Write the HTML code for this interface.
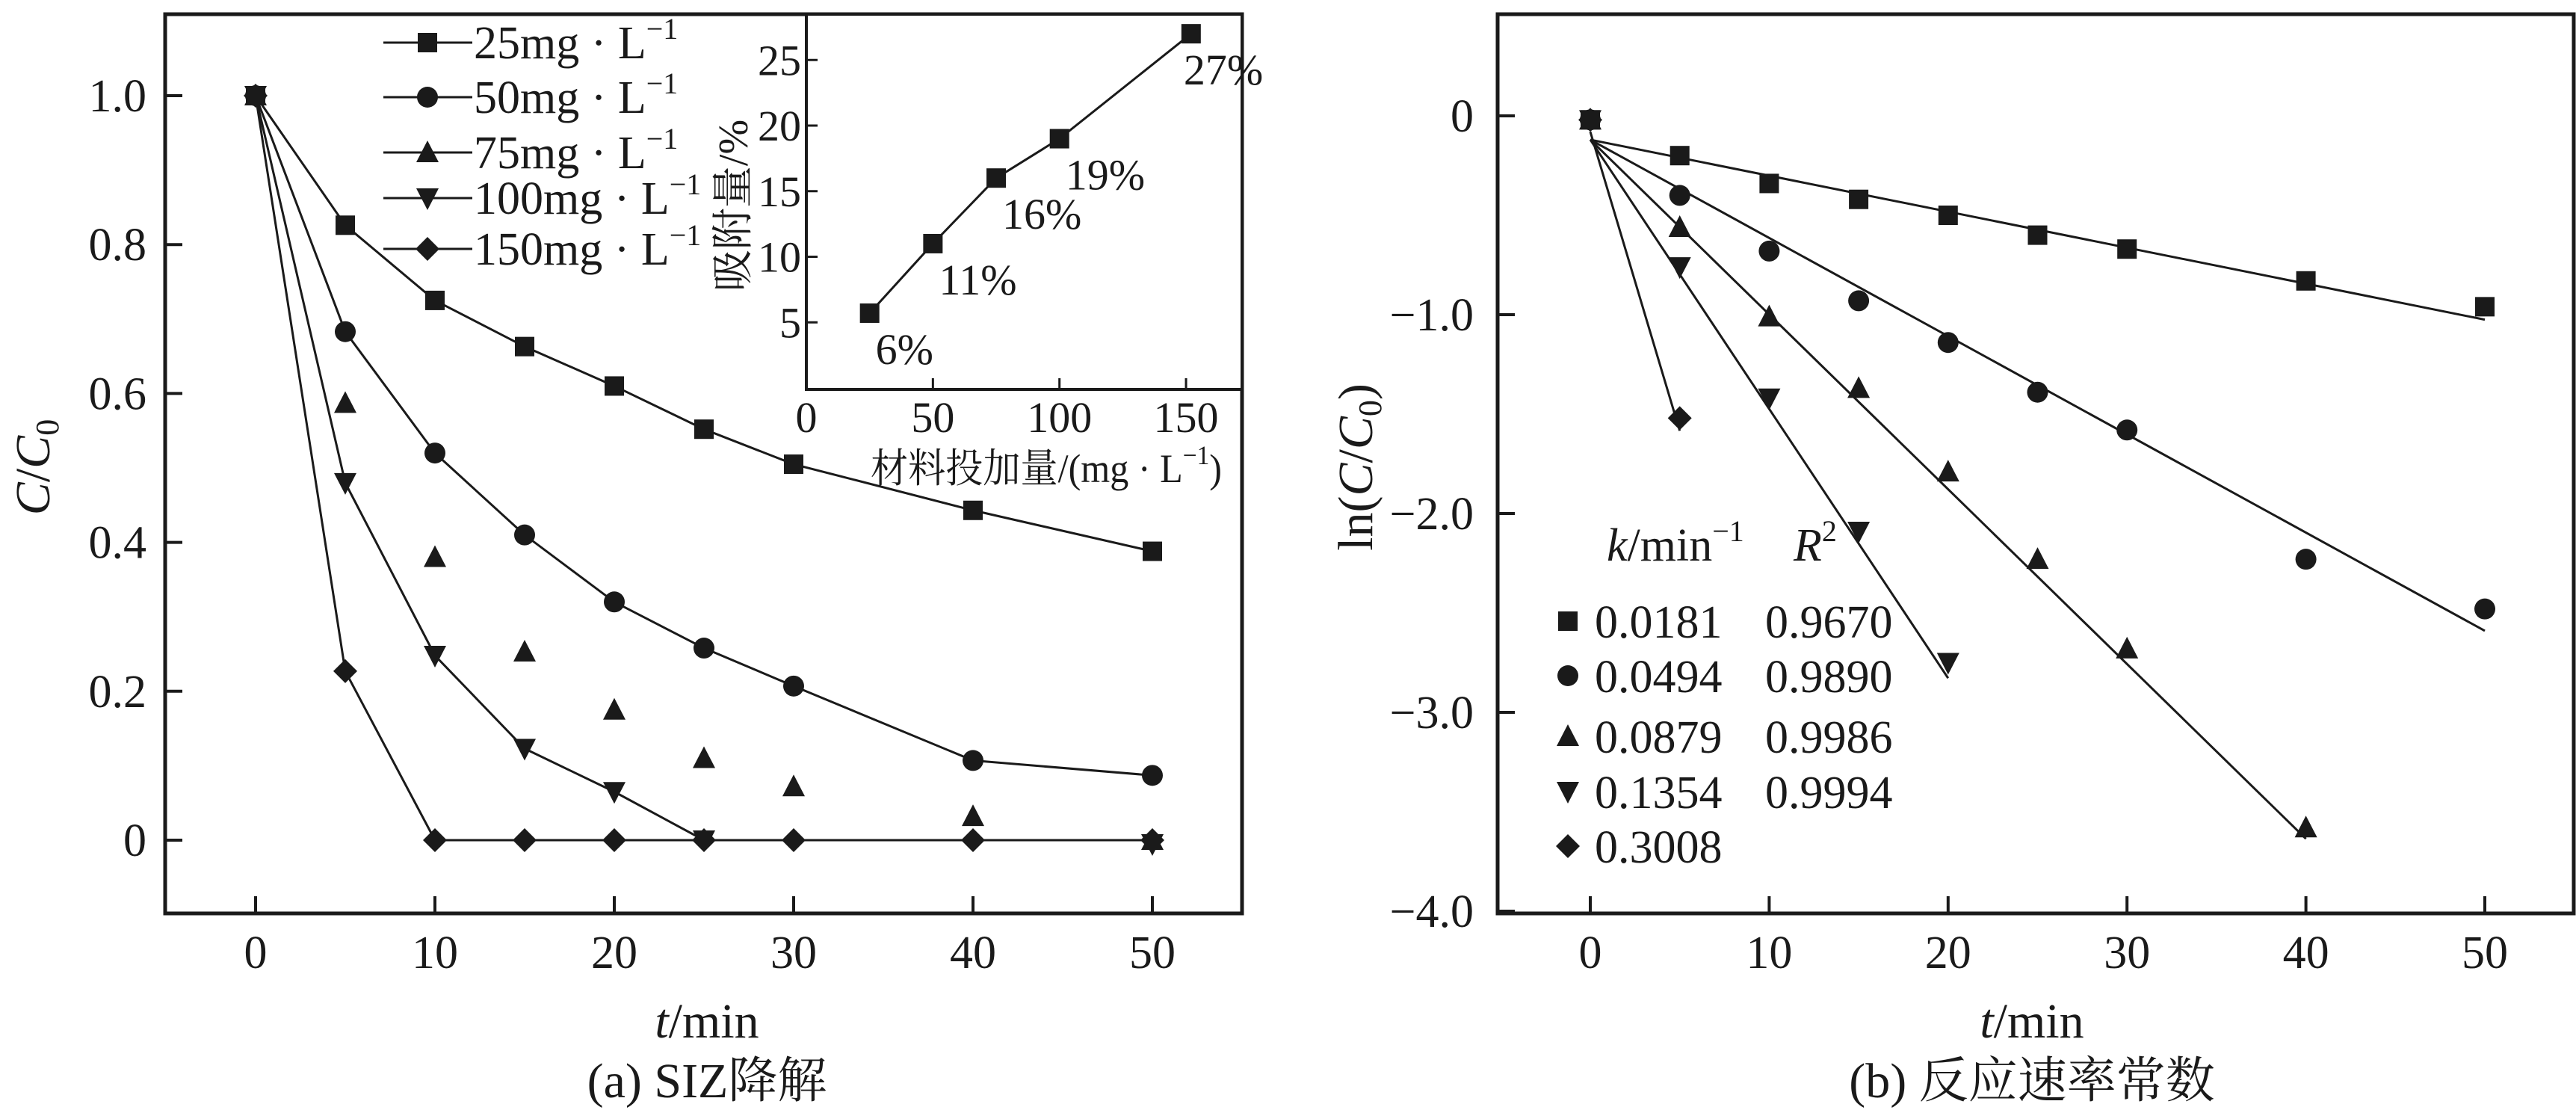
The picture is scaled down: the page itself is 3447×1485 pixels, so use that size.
<!DOCTYPE html>
<html><head><meta charset="utf-8"><style>
html,body{margin:0;padding:0;background:#fff;}
svg{display:block;}
text{font-family:"Liberation Serif","Noto Serif CJK SC","Noto Sans CJK SC",serif;fill:#1a1a1a;}
</style></head><body>
<svg id="chart" width="3447" height="1485" viewBox="0 0 3447 1485" xmlns="http://www.w3.org/2000/svg">
<g id="g"></g>
</svg>
<script>
// ---- data: panel (a) ----
const tA = [0,5,10,15,20,25,30,40,50];
const s25 = [1,0.826,0.725,0.663,0.61,0.552,0.505,0.443,0.388];
const s50 = [1,0.683,0.52,0.41,0.32,0.258,0.207,0.107,0.087];
const s75 = [1,0.587,0.38,0.253,0.175,0.11,0.072,0.032,0.0];
const t100 = [0,5,10,15,20,25,50];
const s100 = [1,0.48,0.248,0.123,0.065,0,-0.005];
const s150 = [1,0.227,0,0,0,0,0,0,0];
const legendA = ["25mg · L","50mg · L","75mg · L","100mg · L","150mg · L"];
const yTicksA = [0,0.2,0.4,0.6,0.8,1.0];
const yTickLabelsA = ["0","0.2","0.4","0.6","0.8","1.0"];
const xTicks = [0,10,20,30,40,50];
// inset
const insetX = [25,50,75,100,152];
const insetY = [5.7,11,16,19,27];
const insetLabels = ["6%","11%","16%","19%","27%"];
const insetXTicks = [0,50,100,150];
const insetYTicks = [5,10,15,20,25];
// ---- data: panel (b) ----
const tB = [0,5,10,15,20,25,30,40,50];
const b25 = [-0.02,-0.2,-0.34,-0.42,-0.5,-0.6,-0.67,-0.83,-0.96];
const b50 = [-0.02,-0.40,-0.68,-0.93,-1.14,-1.39,-1.58,-2.23,-2.48];
const tB75 = [0,5,10,15,20,25,30,40];
const b75 = [-0.02,-0.56,-1.01,-1.37,-1.79,-2.23,-2.68,-3.58];
const tB100 = [0,5,10,15,20];
const b100 = [-0.02,-0.76,-1.42,-2.09,-2.75];
const tB150 = [0,5];
const b150 = [-0.02,-1.52];
const kVals = [0.0181,0.0494,0.0879,0.1354,0.3008];
const kLabels = ["0.0181","0.0494","0.0879","0.1354","0.3008"];
const r2Labels = ["0.9670","0.9890","0.9986","0.9994",""];
const fitIntercept = [-0.12,-0.12,-0.12,-0.12,-0.08];
const fitEnd = [50,50,40,20,5];
const yTicksB = [0,-1,-2,-3,-4];
const yTickLabelsB = ["0","\u22121.0","\u22122.0","\u22123.0","\u22124.0"];

const NS="http://www.w3.org/2000/svg";
const G=document.getElementById('g');
function el(tag,attrs,parent){const e=document.createElementNS(NS,tag);for(const k in attrs)e.setAttribute(k,attrs[k]);(parent||G).appendChild(e);return e;}
function txt(x,y,s,size,anchor,parent){const e=el('text',{x:x,y:y,'font-size':size,'text-anchor':anchor||'middle'},parent);e.textContent=s;return e;}

// scales
const XA=t=>342+24*t, YA=v=>1124-996*v;
const XI=p=>1079+3.387*p, YI=v=>519-17.55*v;
const XB=t=>2128+23.94*t, YB=v=>155-266*v;

function marker(type,x,y,parent){
  let m;
  if(type==='sq') m=el('rect',{x:x-13,y:y-13,width:26,height:26,fill:'#1a1a1a'},parent);
  else if(type==='ci') m=el('circle',{cx:x,cy:y,r:14,fill:'#1a1a1a'},parent);
  else if(type==='tu') m=el('polygon',{points:`${x},${y-16} ${x-15},${y+13} ${x+15},${y+13}`,fill:'#1a1a1a'},parent);
  else if(type==='td') m=el('polygon',{points:`${x},${y+16} ${x-15},${y-13} ${x+15},${y-13}`,fill:'#1a1a1a'},parent);
  else m=el('polygon',{points:`${x},${y-16} ${x+16},${y} ${x},${y+16} ${x-16},${y}`,fill:'#1a1a1a'},parent);
  return m;
}
function poly(xs,ys,X,Y,n,parent){
  const pts=[];for(let i=0;i<n;i++)pts.push(X(xs[i])+','+Y(ys[i]));
  return el('polyline',{points:pts.join(' '),fill:'none',stroke:'#1a1a1a','stroke-width':3},parent);
}

// ===== Panel A =====
const pa=el('g',{});


const boxA=el('rect',{x:221,y:19,width:1441,height:1203,fill:'none',stroke:'#1a1a1a','stroke-width':5},pa);


xTicks.forEach(t=>{
  el('line',{x1:XA(t),y1:1222,x2:XA(t),y2:1199,stroke:'#1a1a1a','stroke-width':4},pa);
  const l=txt(XA(t),1295,String(t),62,'middle',pa);
  
  
});
yTicksA.forEach((v,i)=>{
  el('line',{x1:221,y1:YA(v),x2:244,y2:YA(v),stroke:'#1a1a1a','stroke-width':4},pa);
  const l=txt(196,YA(v)+21,yTickLabelsA[i],62,'end',pa);
  
  
});
const ytA=el('text',{x:0,y:0,'font-size':66,'text-anchor':'middle',transform:'translate(66,625) rotate(-90)'},pa);
ytA.innerHTML='<tspan font-style="italic">C</tspan>/<tspan font-style="italic">C</tspan><tspan font-size="44" dy="12">0</tspan>';


const xtA=el('text',{x:946,y:1388,'font-size':66,'text-anchor':'middle'},pa);
xtA.innerHTML='<tspan font-style="italic">t</tspan>/min';


const capA=txt(946,1468,'(a) SIZ降解',66,'middle',pa);



// series A
const seriesA=[[tA,s25,'sq',9],[tA,s50,'ci',9],[tA,s75,'tu',0],[t100,s100,'td',6],[tA,s150,'di',9]];
seriesA.forEach((s,si)=>{
  const sg=el('g',{},pa);
  
  
  if(s[3]>0) poly(s[0],s[1],XA,YA,s[3],sg);
  s[0].forEach((t,i)=>{const m=marker(s[2],XA(t),YA(s[1][i]),sg);
    
    });
});
// legend A
const legYs=[57,130,204,265,333];
legendA.forEach((lab,i)=>{
  const lg=el('g',{},pa);
  
  
  el('line',{x1:513,y1:legYs[i],x2:632,y2:legYs[i],stroke:'#1a1a1a','stroke-width':3},lg);
  marker(['sq','ci','tu','td','di'][i],572,legYs[i],lg);
  const t=el('text',{x:634,y:legYs[i]+21,'font-size':62},lg);
  t.innerHTML=lab+'<tspan font-size="40" dy="-26">\u22121</tspan>';
});

// inset
const ig=el('g',{},pa);


el('rect',{x:1079,y:19,width:583,height:502,fill:'#fff',stroke:'#1a1a1a','stroke-width':4},ig);
insetXTicks.forEach(p=>{
  el('line',{x1:XI(p),y1:521,x2:XI(p),y2:506,stroke:'#1a1a1a','stroke-width':3},ig);
  const l=txt(XI(p),578,String(p),58,'middle',ig);
  
  
});
insetYTicks.forEach(v=>{
  el('line',{x1:1079,y1:YI(v),x2:1094,y2:YI(v),stroke:'#1a1a1a','stroke-width':3},ig);
  const l=txt(1072,YI(v)+20,String(v),58,'end',ig);
  
  
});
const ixt=el('text',{x:1165,y:645,'font-size':54,'text-anchor':'start',textLength:470,lengthAdjust:'spacingAndGlyphs'},ig);
ixt.innerHTML='材料投加量/(mg · L<tspan font-size="36" dy="-24">\u22121</tspan><tspan dy="24">)</tspan>';


const iyt=txt(0,0,'吸附量/%',56,'middle',ig);
iyt.setAttribute('transform','translate(1000,275) rotate(-90)');


poly(insetX,insetY,XI,YI,insetX.length,ig);
insetX.forEach((p,i)=>{
  const m=marker('sq',XI(p),YI(insetY[i]),ig);
  
  
  const l=txt(XI(p)+(i===4?-10:8),YI(insetY[i])+68,insetLabels[i],58,'start',ig);
  
  
});

// ===== Panel B =====
const pb=el('g',{});


const boxB=el('rect',{x:2004,y:19,width:1440,height:1203,fill:'none',stroke:'#1a1a1a','stroke-width':5},pb);


xTicks.forEach(t=>{
  el('line',{x1:XB(t),y1:1222,x2:XB(t),y2:1199,stroke:'#1a1a1a','stroke-width':4},pb);
  const l=txt(XB(t),1295,String(t),62,'middle',pb);
  
  
});
yTicksB.forEach((v,i)=>{
  el('line',{x1:2004,y1:YB(v),x2:2027,y2:YB(v),stroke:'#1a1a1a','stroke-width':4},pb);
  const l=txt(1972,YB(v)+21,yTickLabelsB[i],62,'end',pb);
  
  
});
const ytB=el('text',{x:0,y:0,'font-size':66,'text-anchor':'middle',transform:'translate(1836,625) rotate(-90)'},pb);
ytB.innerHTML='ln(<tspan font-style="italic">C</tspan>/<tspan font-style="italic">C</tspan><tspan font-size="44" dy="12">0</tspan><tspan dy="-12">)</tspan>';


const xtB=el('text',{x:2719,y:1388,'font-size':66,'text-anchor':'middle'},pb);
xtB.innerHTML='<tspan font-style="italic">t</tspan>/min';


const capB=txt(2719,1468,'(b) 反应速率常数',66,'middle',pb);



const seriesB=[[tB,b25,'sq'],[tB,b50,'ci'],[tB75,b75,'tu'],[tB100,b100,'td'],[tB150,b150,'di']];
seriesB.forEach((s,si)=>{
  const sg=el('g',{},pb);
  
  
  const fl=el('line',{x1:XB(0),y1:YB(fitIntercept[si]),x2:XB(fitEnd[si]),y2:YB(fitIntercept[si]-kVals[si]*fitEnd[si]),stroke:'#1a1a1a','stroke-width':3},sg);
  
  
  s[0].forEach((t,i)=>{const m=marker(s[2],XB(t),YB(s[1][i]),sg);
    
    });
});
// legend B
const lh=el('text',{x:2150,y:750,'font-size':62},pb);
lh.innerHTML='<tspan font-style="italic">k</tspan>/min<tspan font-size="40" dy="-26">\u22121</tspan><tspan x="2400" dy="26" font-style="italic">R</tspan><tspan font-size="40" dy="-26">2</tspan>';


const legBY=[831,904,985,1059,1132];
kLabels.forEach((k,i)=>{
  const lg=el('g',{},pb);
  
  
  marker(['sq','ci','tu','td','di'][i],2098,legBY[i],lg);
  txt(2134,legBY[i]+22,k,62,'start',lg);
  if(r2Labels[i]) txt(2362,legBY[i]+22,r2Labels[i],62,'start',lg);
});
</script>
</body></html>
